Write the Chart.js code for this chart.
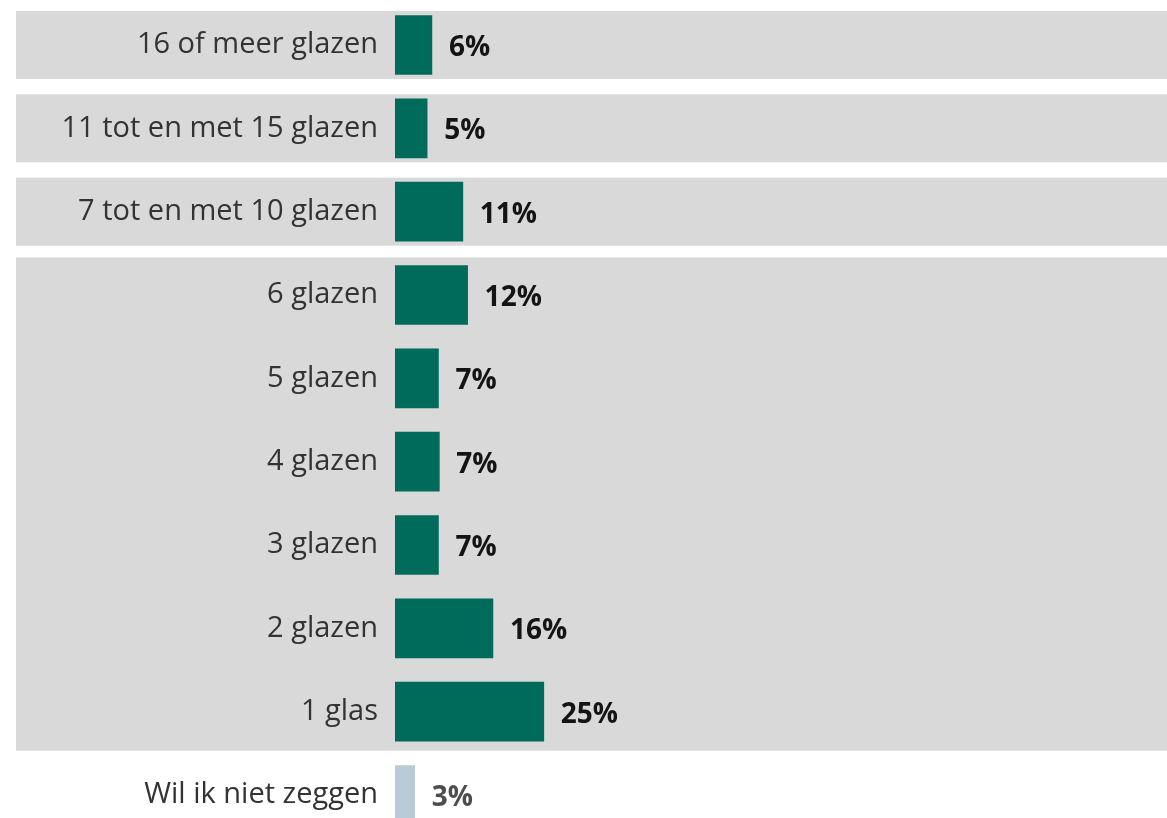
<!DOCTYPE html>
<html>
<head>
<meta charset="utf-8">
<script src="https://cdn.jsdelivr.net/npm/chart.js@4"></script>
<style>
  html, body { margin: 0; padding: 0; background: #fff; overflow: hidden; }
  #wrap { width: 1167px; height: 840px; position: relative; }
</style>
</head>
<body>
<div id="wrap"><canvas id="myBarChart"></canvas></div>
<script>
// categories, top to bottom
var categories = [
    "16 of meer glazen",
    "11 tot en met 15 glazen",
    "7 tot en met 10 glazen",
    "6 glazen",
    "5 glazen",
    "4 glazen",
    "3 glazen",
    "2 glazen",
    "1 glas",
    "Wil ik niet zeggen"
];
// share in percent (bar lengths, labels are rounded)
var shares = [6.2, 5.4, 11.4, 12.2, 7.3, 7.45, 7.3, 16.45, 25, 3.3];

// grey background bands: first and last row index of each band
var bandGroups = [[0, 0], [1, 1], [2, 2], [3, 8]];

var barColors = [];
var labelColors = [];
for (var i = 0; i < categories.length; i++) {
    var noAnswer = i === categories.length - 1;
    barColors[i] = noAnswer ? "#b9cbd6" : "#006b5a";
    labelColors[i] = noAnswer ? "#4d4d4d" : "#141414";
}

// draws the grey bands behind everything (also behind the tick labels)
var bandPlugin = {
    id: "bands",
    beforeDraw: function(chart) {
        var c = chart.ctx;
        var y = chart.scales.y;
        c.save();
        c.fillStyle = "#d9d9d9";
        bandGroups.forEach(function(g) {
            var single = g[0] === g[1];
            var top = y.getPixelForValue(g[0]) - (single ? 34 : 37.5);
            var bottom = y.getPixelForValue(g[1]) + (single ? 34 : 39);
            c.fillRect(16, top, chart.width - 16, bottom - top);
        });
        c.restore();
    }
};

// percentage labels right of each bar
var valuePlugin = {
    id: "values",
    afterDatasetsDraw: function(chart) {
        var c = chart.ctx;
        var bars = chart.getDatasetMeta(0).data;
        c.save();
        c.font = "bold 28px 'Open Sans'";
        c.textAlign = "left";
        c.textBaseline = "middle";
        bars.forEach(function(bar, i) {
            c.fillStyle = labelColors[i];
            c.fillText(Math.round(shares[i]) + "%", bar.x + 17, bar.y + 3);
        });
        c.restore();
    }
};

const ctx = document.getElementById("myBarChart");

new Chart(ctx, {
    type: "bar",
    data: {
        labels: categories,
        datasets: [{
            data: shares,
            backgroundColor: barColors,
            borderWidth: 0,
            barThickness: 59
        }]
    },
    options: {
        indexAxis: "y",
        responsive: true,
        maintainAspectRatio: false,
        animation: false,
        layout: { padding: { top: 3.3, bottom: 3.3, left: 0, right: 0 } },
        plugins: {
            legend: { display: false },
            tooltip: { enabled: false }
        },
        scales: {
            x: {
                display: false,
                min: 0,
                max: 129.7
            },
            y: {
                grid: { display: false, drawTicks: false },
                border: { display: false },
                ticks: {
                    autoSkip: false,
                    padding: 17,
                    color: "#333333",
                    font: { family: "'Open Sans'", size: 29 }
                },
                afterFit: function(scale) {
                    scale.width = 395;
                    scale.paddingTop = 0;
                    scale.paddingBottom = 0;
                }
            }
        }
    },
    plugins: [bandPlugin, valuePlugin]
});
</script>
</body>
</html>
